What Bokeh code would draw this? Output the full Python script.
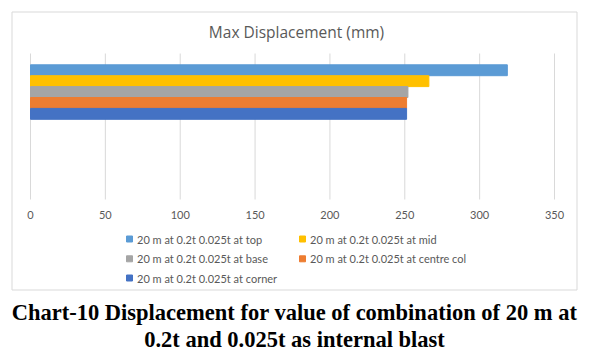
from bokeh.plotting import figure
from bokeh.models import Range1d, ColumnDataSource
from bokeh.core.properties import value
from bokeh.embed import file_html
from bokeh.resources import INLINE

series = ["20 m at 0.2t 0.025t at top", "20 m  at 0.2t 0.025t at mid", "20 m at 0.2t 0.025t at base",
          "20 m at 0.2t 0.025t at centre col", "20 m at 0.2t 0.025t at corner"]
values = [318.5, 266.1, 252.1, 251.2, 251.2]
colors = ["#5B9BD5", "#FFC000", "#A5A5A5", "#ED7D31", "#4472C4"]
ticks = [0, 50, 100, 150, 200, 250, 300, 350]
tick_labels = ["0", "50", "100", "150", "200", "250", "300", "350"]
title = "Max Displacement (mm)"
caption = ["Chart-10 Displacement for value of combination of 20 m at", "0.2t and 0.025t as internal blast"]

W, H = 590, 353
# layout (pixels): value 0 at x=30, value 350 at x=554; bar rows 10.9 px tall starting at y=64.3
X0, X350 = 30.0, 554.0
pxu = (X350 - X0) / 350.0
ROW, BAR_TOP = 10.9, 64.3
p = figure(width=W, height=H, output_backend="svg", toolbar_location=None,
           x_axis_location=None, y_axis_location=None,
           x_range=Range1d(-X0 / pxu, (W - X0) / pxu),
           y_range=Range1d((H - BAR_TOP) / ROW - 0.5, -BAR_TOP / ROW - 0.5),
           min_border=0, min_border_left=0, min_border_right=0, min_border_top=0, min_border_bottom=0)
p.extra_x_ranges = {"px": Range1d(0, W)}
p.extra_y_ranges = {"px": Range1d(H, 0)}
p.outline_line_color = None
p.grid.visible = False
p.background_fill_color = "white"

# chart border
p.quad(left=[11.5], right=[576.5], top=[11.5], bottom=[289.5], x_range_name="px", y_range_name="px",
       fill_alpha=0, line_color="#D9D9D9", line_width=1)

# gridlines (value axis)
p.segment(x0=ticks, x1=ticks, y0=[53] * len(ticks), y1=[199] * len(ticks), y_range_name="px",
          line_color="#D9D9D9", line_width=1)

# bars
src = ColumnDataSource(dict(y=list(range(len(series))), right=values, color=colors, name=series))
p.hbar(y="y", left=0, right="right", height=1.0, color="color", source=src)

# tick labels
p.text(x=ticks, y=[214] * len(ticks), text=tick_labels, y_range_name="px",
       text_align="center", text_baseline="middle", text_font=value("Lato"),
       text_font_size="11px", text_color="#595959")

# title
p.text(x=[296], y=[31], text=[title], x_range_name="px", y_range_name="px",
       text_align="center", text_baseline="middle", text_font=value("Open Sans"),
       text_font_size="15.5px", text_color="#595959")

# legend (2 columns, row-wise)
col_x = [129, 302]
row_y = [238.5, 258.3, 277.5]
lx = [col_x[i % 2] for i in range(len(series))]
ly = [row_y[i // 2] for i in range(len(series))]
p.scatter(x=lx, y=ly, marker="square", size=6, color=colors, x_range_name="px", y_range_name="px")
p.text(x=[x + 7.5 for x in lx], y=ly, text=series, x_range_name="px", y_range_name="px",
       text_align="left", text_baseline="middle", text_font=value("Lato"),
       text_font_size="11px", text_color="#595959")

# caption
p.text(x=[294, 294], y=[311.7, 339], text=caption, x_range_name="px", y_range_name="px",
       text_align="center", text_baseline="middle", text_font=value("Liberation Serif"),
       text_font_style="bold", text_font_size="22.5px", text_color="black")

open("out.html", "w").write(file_html(p, INLINE))
